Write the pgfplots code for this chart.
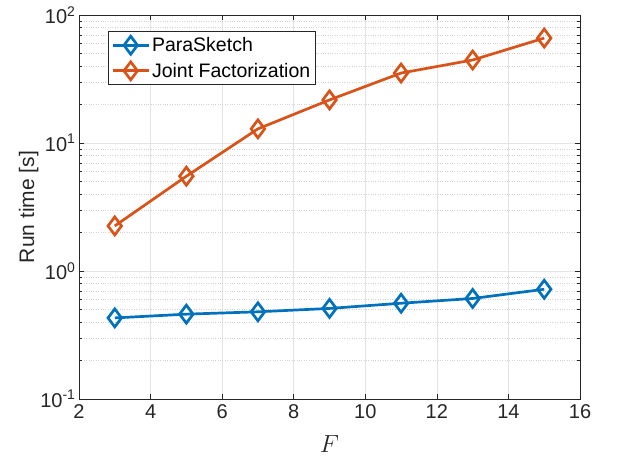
\documentclass[border=0pt]{standalone}
\usepackage{pgfplots}
\pgfplotsset{compat=1.18}
\usepackage{fontspec}
\setmainfont{Liberation Sans}
\definecolor{mblue}{rgb}{0,0.447,0.741}
\definecolor{morange}{rgb}{0.850,0.325,0.098}
\definecolor{axgray}{rgb}{0.15,0.15,0.15}
\begin{document}
\begin{tikzpicture}[x=1bp,y=1bp]
\path[use as bounding box] (0,0) rectangle (621,461);
\begin{axis}[
  at={(79bp,62bp)}, anchor=south west,
  scale only axis, width=501bp, height=384bp,
  ymode=log,
  xmin=2, xmax=16, ymin=0.1, ymax=100,
  xtick={2,4,...,16},
  ytick={0.1,1,10,100},
  yticklabels={10\textsuperscript{-1},10\textsuperscript{0},10\textsuperscript{1},10\textsuperscript{2}},
  /pgf/number format/assume math mode=true,
  tick label style={font=\fontsize{20bp}{22bp}\selectfont, text=axgray},
  xticklabel style={yshift=-2bp},
  xlabel={$F$}, ylabel={Run time [s]},
  xlabel style={font=\fontsize{23bp}{25bp}\selectfont, text=axgray, yshift=-10bp},
  ylabel style={font=\fontsize{21bp}{23bp}\selectfont, text=axgray, yshift=-5bp},
  axis line style={axgray, line width=0.8pt},
  tick style={axgray, line width=0.6pt},
  major tick length=5bp, minor tick length=3bp,
  tick align=inside,
  grid=both,
  xminorgrids=false,
  major grid style={gray!22, line width=0.6pt},
  minor grid style={gray!35, dotted, line width=0.6pt},
  legend style={at={(0.058,0.958)}, anchor=north west,
    font=\fontsize{19.5bp}{21bp}\selectfont, draw=axgray, line width=0.6pt,
    inner xsep=3bp, inner ysep=4bp, row sep=6bp},
  legend cell align=left,
  legend image code/.code={
    \draw[mark repeat=2,mark phase=2] plot coordinates {(0bp,0bp) (18bp,0bp) (36bp,0bp)};
  },
]
\addplot[mblue, line width=2.7bp, mark=diamond, mark size=9bp, mark options={solid}]
  coordinates {(3,0.43) (5,0.46) (7,0.48) (9,0.51) (11,0.56) (13,0.61) (15,0.72)};
\addlegendentry{ParaSketch}
\addplot[morange, line width=2.7bp, mark=diamond, mark size=9bp, mark options={solid}]
  coordinates {(3,2.25) (5,5.5) (7,12.9) (9,21.7) (11,35.2) (13,44.5) (15,66)};
\addlegendentry{Joint Factorization}
\end{axis}
\end{tikzpicture}
\end{document}
